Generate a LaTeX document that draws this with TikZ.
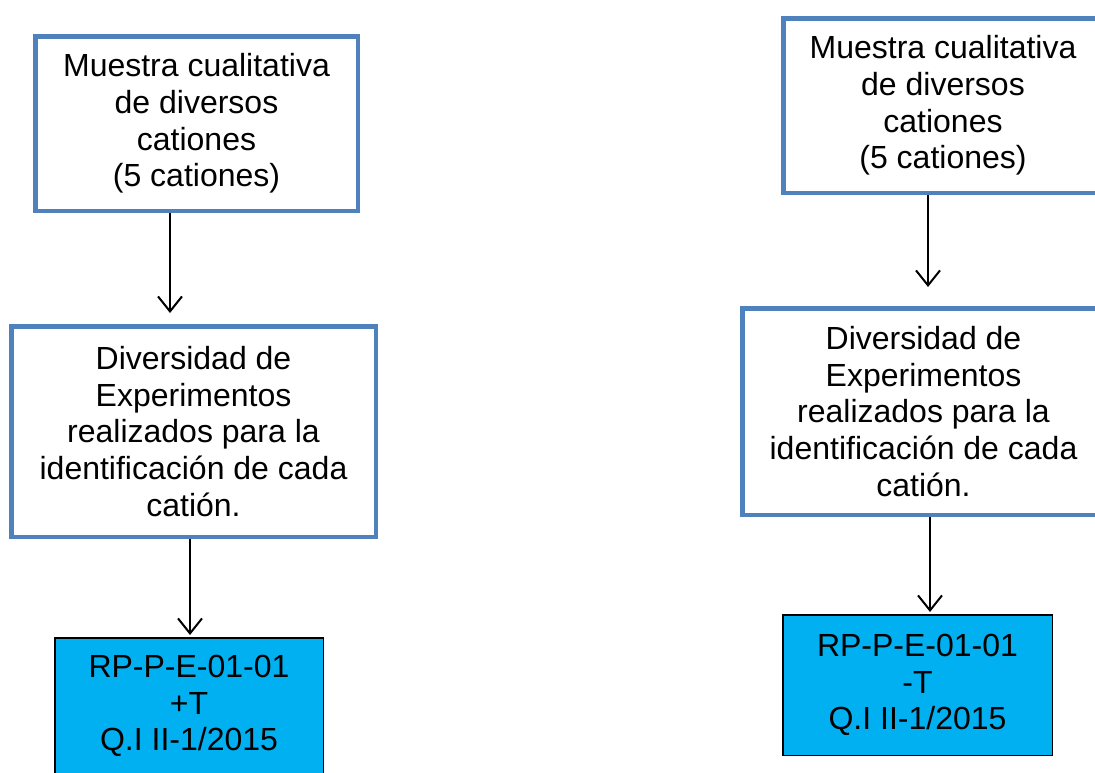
\documentclass[tikz,border=0pt]{standalone}
\usepackage{fontspec}
\setmainfont{Liberation Sans}
\usetikzlibrary{arrows.meta}
\definecolor{bordblue}{HTML}{4F81BD}
\definecolor{fillblue}{HTML}{00B0F0}
\tikzset{
  bluebox/.style={draw=bordblue, line width=4.5pt, fill=white, align=center, inner sep=0pt,
    font=\fontsize{32}{36.8}\selectfont},
  codebox/.style={draw=black, line width=1.5pt, fill=fillblue, align=center, inner sep=0pt,
    font=\fontsize{32}{36.8}\selectfont},
  arr/.style={draw=black, line width=2pt, -{Straight Barb[length=15pt,width=24pt,line width=2pt]}}
}
\begin{document}
\begin{tikzpicture}[x=1pt,y=-1pt]
\useasboundingbox (0,0) rectangle (1095,772);
\clip (0,0) rectangle (1095,772);
\fill[white] (0,0) rectangle (1095,772);
% left column
\node[bluebox, minimum width=322.5pt, minimum height=174.5pt] (l1) at (196.5,123.5)
  {Muestra cualitativa\\de diversos\\cationes\\(5 cationes)};
\node[bluebox, minimum width=364.5pt, minimum height=210.5pt] (l2) at (193.5,431.5)
  {Diversidad de\\Experimentos\\realizados para la\\identificación de cada\\catión.};
\node[codebox, minimum width=268.5pt, minimum height=136.5pt] (l3) at (189,706)
  {RP-P-E-01-01\\+T\\Q.I II-1/2015};
% right column
\node[bluebox, minimum width=319.5pt, minimum height=174.5pt] (r1) at (943,105.5)
  {Muestra cualitativa\\de diversos\\cationes\\(5 cationes)};
\node[bluebox, minimum width=362.5pt, minimum height=206.5pt] (r2) at (923.5,411.5)
  {Diversidad de\\Experimentos\\realizados para la\\identificación de cada\\catión.};
\node[codebox, minimum width=269.5pt, minimum height=140.5pt] (r3) at (917.5,685)
  {RP-P-E-01-01\\-T\\Q.I II-1/2015};
% arrows
\draw[arr, shorten >=11pt] ([xshift=-26.5pt]l1.south) -- ([xshift=-23.5pt]l2.north);
\draw[arr, shorten >=2pt] ([xshift=-3.5pt]l2.south) -- ([xshift=1pt]l3.north);
\draw[arr, shorten >=19pt] ([xshift=-15pt]r1.south) -- ([xshift=4.5pt]r2.north);
\draw[arr, shorten >=2pt] ([xshift=6.5pt]r2.south) -- ([xshift=12.5pt]r3.north);
\end{tikzpicture}
\end{document}
